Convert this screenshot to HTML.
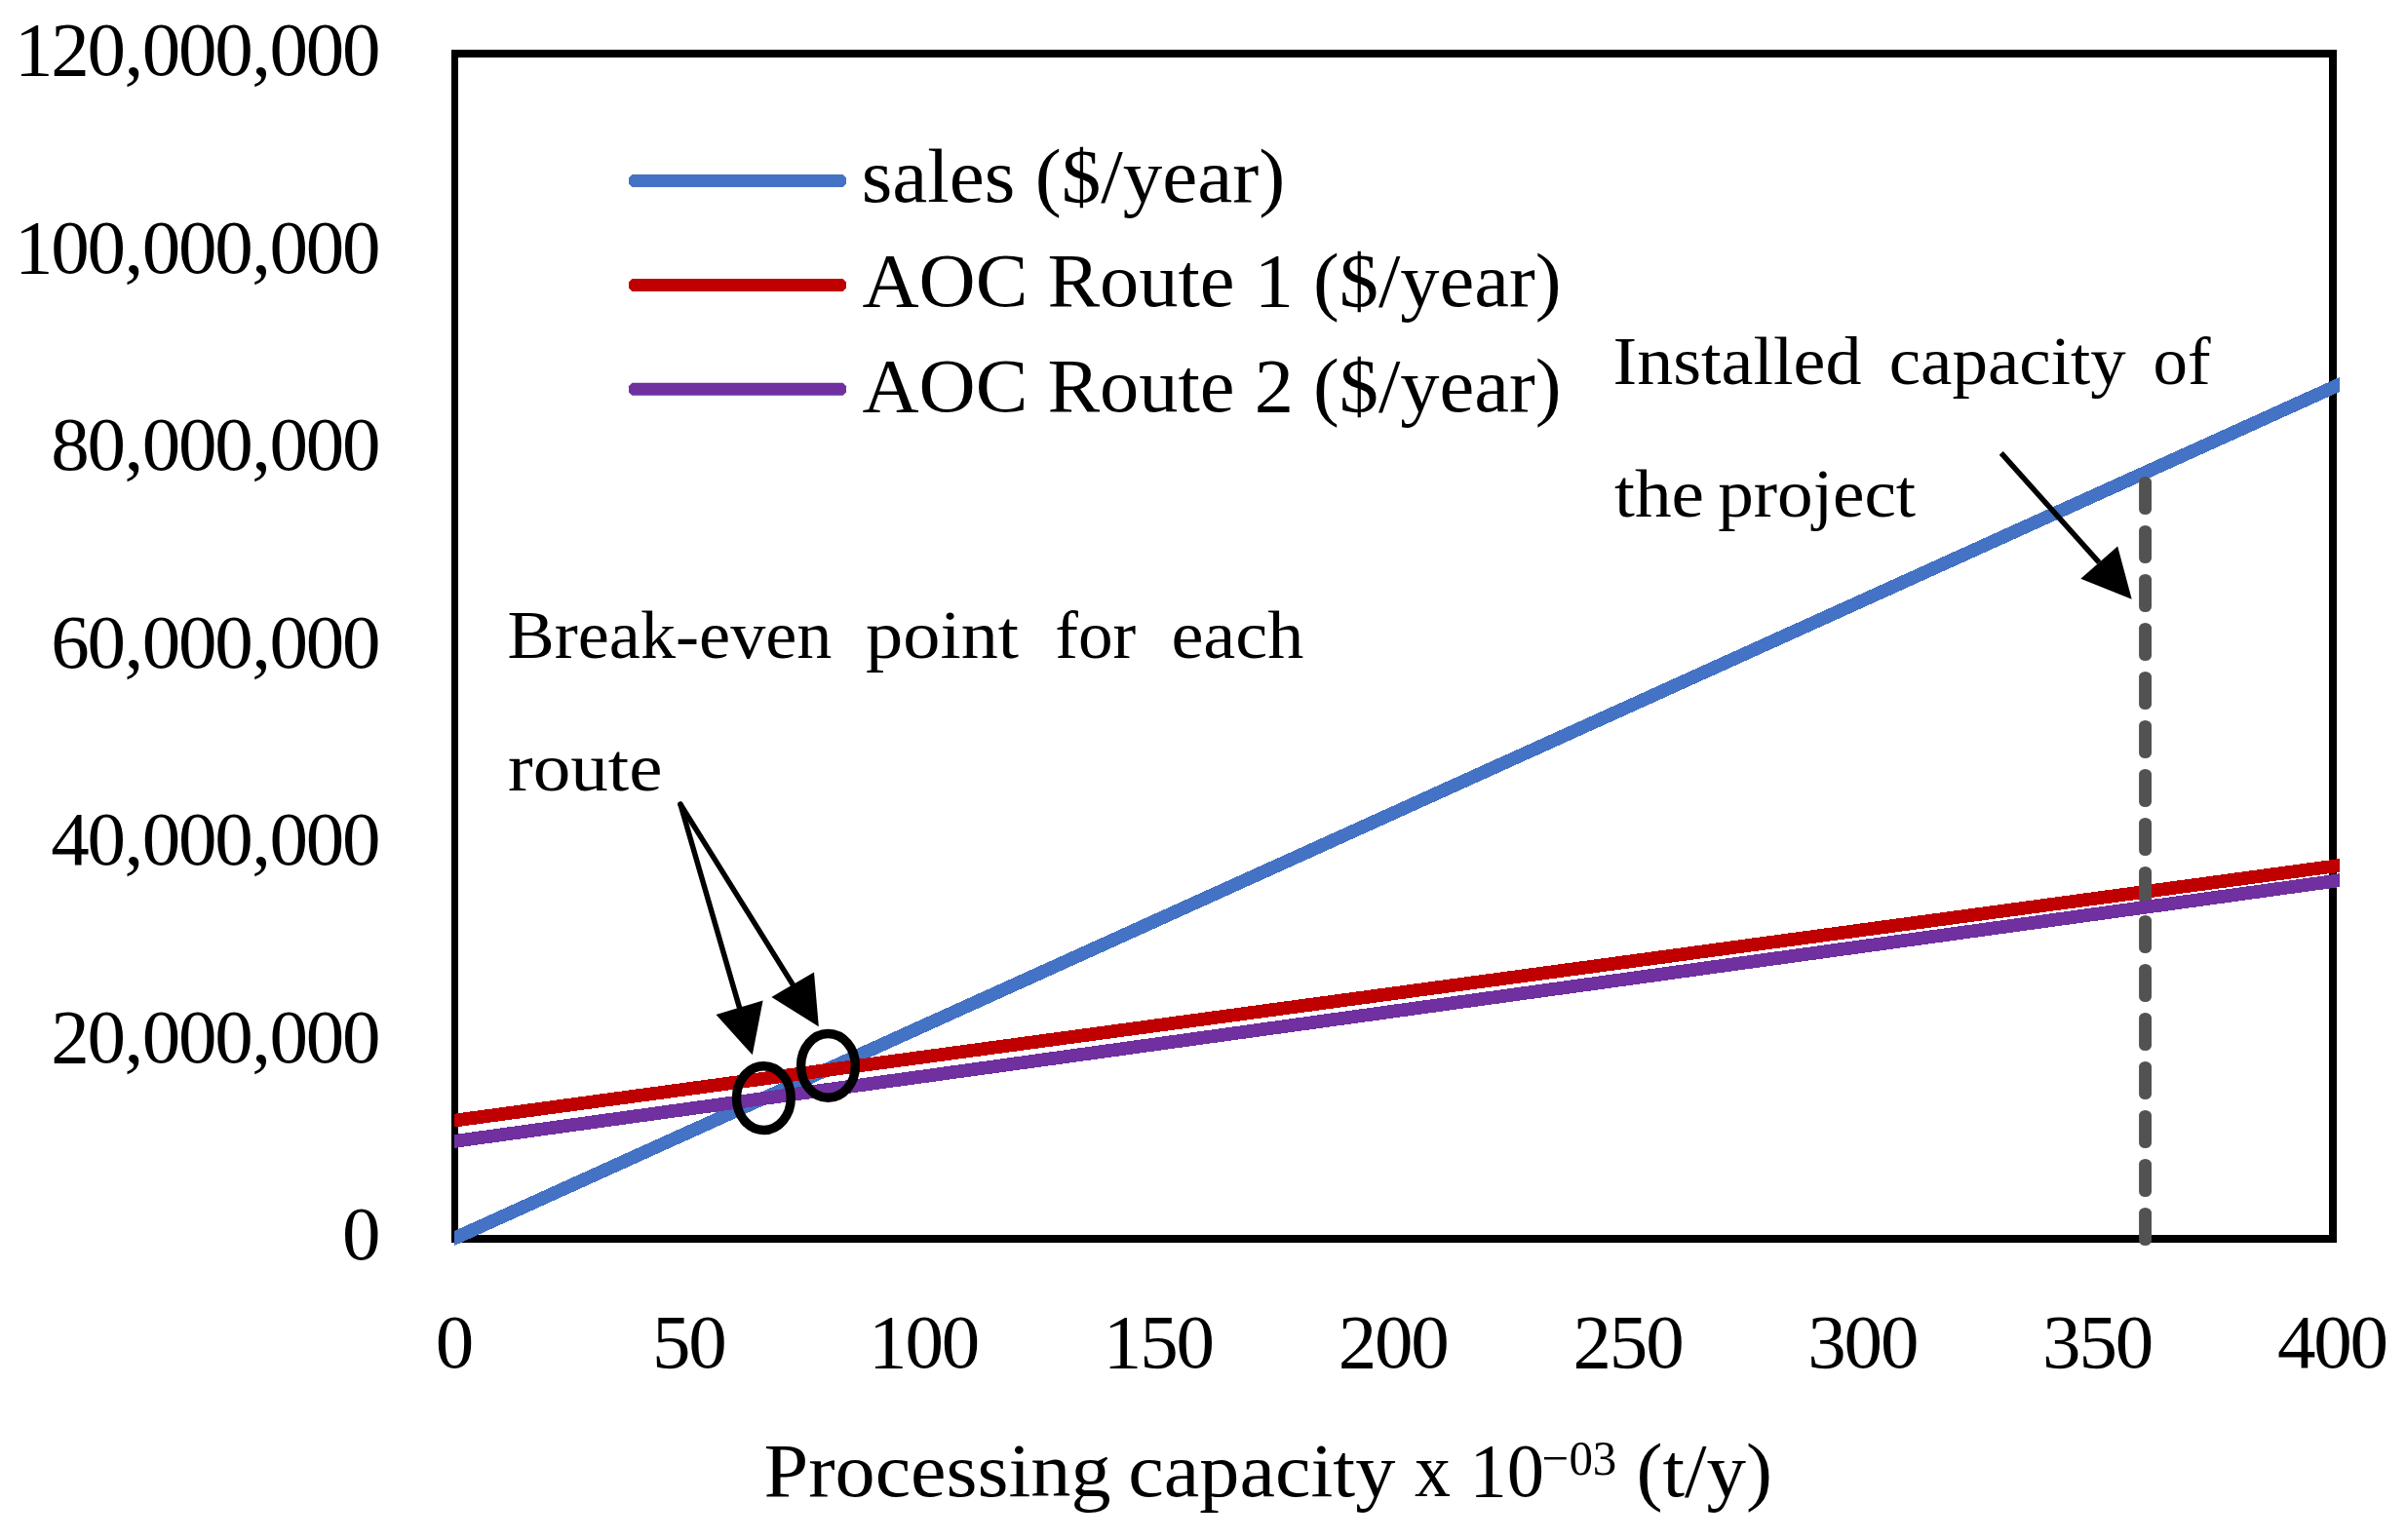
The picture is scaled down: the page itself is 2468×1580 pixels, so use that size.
<!DOCTYPE html>
<html lang="en"><head><meta charset="utf-8"><title>Break-even chart</title>
<style>html,body{margin:0;padding:0;background:#fff;}body{width:2468px;height:1580px;overflow:hidden;}svg{display:block;}text{font-family:"Liberation Serif", serif;fill:#000;}</style>
</head><body>
<svg width="2468" height="1580" viewBox="0 0 2468 1580">
<rect x="0" y="0" width="2468" height="1580" fill="#ffffff"/>
<path d="M463 51H2397V1275H463Z M470 59V1267H2389V59Z" fill="#000" fill-rule="evenodd"/>
<defs><clipPath id="plotclip"><rect x="466.0" y="0" width="1934.0" height="1400"/></clipPath></defs>
<line x1="446.0" y1="1279.56" x2="2420.0" y2="385.34" stroke="#4472C4" stroke-width="13.7" shape-rendering="crispEdges" clip-path="url(#plotclip)" />
<line x1="446.0" y1="1152.35" x2="2420.0" y2="885.16" stroke="#C00000" stroke-width="13.7" shape-rendering="crispEdges" clip-path="url(#plotclip)" />
<g fill="#525252">
<rect x="2194.1" y="488.9" width="12.9" height="39.1" rx="6.45" ry="5.2"/>
<rect x="2194.1" y="538.9" width="12.9" height="39.1" rx="6.45" ry="5.2"/>
<rect x="2194.1" y="588.9" width="12.9" height="39.1" rx="6.45" ry="5.2"/>
<rect x="2194.1" y="638.9" width="12.9" height="39.1" rx="6.45" ry="5.2"/>
<rect x="2194.1" y="688.9" width="12.9" height="39.1" rx="6.45" ry="5.2"/>
<rect x="2194.1" y="738.9" width="12.9" height="39.1" rx="6.45" ry="5.2"/>
<rect x="2194.1" y="788.9" width="12.9" height="39.1" rx="6.45" ry="5.2"/>
<rect x="2194.1" y="838.9" width="12.9" height="39.1" rx="6.45" ry="5.2"/>
<rect x="2194.1" y="888.9" width="12.9" height="39.1" rx="6.45" ry="5.2"/>
<rect x="2194.1" y="938.9" width="12.9" height="39.1" rx="6.45" ry="5.2"/>
<rect x="2194.1" y="988.9" width="12.9" height="39.1" rx="6.45" ry="5.2"/>
<rect x="2194.1" y="1038.9" width="12.9" height="39.1" rx="6.45" ry="5.2"/>
<rect x="2194.1" y="1088.9" width="12.9" height="39.1" rx="6.45" ry="5.2"/>
<rect x="2194.1" y="1138.9" width="12.9" height="39.1" rx="6.45" ry="5.2"/>
<rect x="2194.1" y="1188.9" width="12.9" height="39.1" rx="6.45" ry="5.2"/>
<rect x="2194.1" y="1238.9" width="12.9" height="39.1" rx="6.45" ry="5.2"/>
</g>
<line x1="446.0" y1="1173.72" x2="2420.0" y2="900.42" stroke="#7030A0" stroke-width="13.7" shape-rendering="crispEdges" clip-path="url(#plotclip)" />
<polygon fill="#4472C4" points="648.4,179.0 864.6,179.0 868.0,182.4 868.0,188.6 864.6,192.0 648.4,192.0 645.0,188.6 645.0,182.4"/>
<polygon fill="#C00000" points="648.4,286.0 864.6,286.0 868.0,289.4 868.0,295.6 864.6,299.0 648.4,299.0 645.0,295.6 645.0,289.4"/>
<polygon fill="#7030A0" points="648.4,392.8 864.6,392.8 868.0,396.2 868.0,402.4 864.6,405.8 648.4,405.8 645.0,402.4 645.0,396.2"/>
<text x="883.8" y="207.2" font-size="79.0" text-anchor="start" textLength="434.5" lengthAdjust="spacingAndGlyphs" >sales ($/year)</text>
<text x="884.5" y="314.0" font-size="79.0" text-anchor="start" textLength="717.0" lengthAdjust="spacingAndGlyphs" >AOC Route 1 ($/year)</text>
<text x="884.5" y="421.7" font-size="79.0" text-anchor="start" textLength="717.0" lengthAdjust="spacingAndGlyphs" >AOC Route 2 ($/year)</text>
<text x="351.07" y="1292.3" font-size="79.0">0</text>
<text x="52.27 89.62 127.51 145.65 183.00 220.35 258.24 276.38 313.73 351.08" y="1089.8" font-size="79.0">20,000,000</text>
<text x="52.27 89.62 127.51 145.65 183.00 220.35 258.24 276.38 313.73 351.08" y="887.3" font-size="79.0">40,000,000</text>
<text x="52.27 89.62 127.51 145.65 183.00 220.35 258.24 276.38 313.73 351.08" y="684.8" font-size="79.0">60,000,000</text>
<text x="52.27 89.62 127.51 145.65 183.00 220.35 258.24 276.38 313.73 351.08" y="482.3" font-size="79.0">80,000,000</text>
<text x="14.93 52.28 89.62 127.51 145.65 183.00 220.35 258.24 276.38 313.73 351.08" y="279.8" font-size="79.0">100,000,000</text>
<text x="14.93 52.28 89.62 127.51 145.65 183.00 220.35 258.24 276.38 313.73 351.08" y="77.3" font-size="79.0">120,000,000</text>
<text x="446.75" y="1403.4" font-size="79.0">0</text>
<text x="668.89 706.24" y="1403.4" font-size="79.0">50</text>
<text x="891.02 928.38 965.73" y="1403.4" font-size="79.0">100</text>
<text x="1131.84 1169.19 1206.54" y="1403.4" font-size="79.0">150</text>
<text x="1372.65 1410.00 1447.35" y="1403.4" font-size="79.0">200</text>
<text x="1613.46 1650.81 1688.16" y="1403.4" font-size="79.0">250</text>
<text x="1854.27 1891.62 1928.97" y="1403.4" font-size="79.0">300</text>
<text x="2095.09 2132.44 2169.79" y="1403.4" font-size="79.0">350</text>
<text x="2335.90 2373.25 2410.60" y="1403.4" font-size="79.0">400</text>
<text font-size="78" y="1535.3"><tspan x="783.5" textLength="356.0" lengthAdjust="spacingAndGlyphs">Processing</tspan> <tspan x="1157.3" textLength="274.0" lengthAdjust="spacingAndGlyphs">capacity</tspan> <tspan x="1451.0" textLength="37.0" lengthAdjust="spacingAndGlyphs">x</tspan> <tspan x="1507.5" textLength="76.5" lengthAdjust="spacingAndGlyphs" font-size="79.0">10</tspan><tspan x="1581.8" textLength="76.5" lengthAdjust="spacingAndGlyphs" font-size="51.0" y="1512.9">−03</tspan> <tspan x="1678.6" textLength="139.5" lengthAdjust="spacingAndGlyphs" y="1535.3">(t/y)</tspan></text>
<text font-size="69"><tspan x="1654.5" y="394.1" textLength="255" lengthAdjust="spacingAndGlyphs">Installed</tspan> <tspan x="1937.7" y="394.1" textLength="243" lengthAdjust="spacingAndGlyphs">capacity</tspan> <tspan x="2208.5" y="394.1" textLength="59" lengthAdjust="spacingAndGlyphs">of</tspan></text>
<text font-size="69"><tspan x="1656" y="530.1" textLength="92" lengthAdjust="spacingAndGlyphs">the</tspan> <tspan x="1762.2" y="530.1" textLength="203" lengthAdjust="spacingAndGlyphs">project</tspan></text>
<text font-size="69"><tspan x="520.5" y="675.4" textLength="333" lengthAdjust="spacingAndGlyphs">Break-even</tspan> <tspan x="888.1" y="675.4" textLength="157" lengthAdjust="spacingAndGlyphs">point</tspan> <tspan x="1082.2" y="675.4" textLength="83" lengthAdjust="spacingAndGlyphs">for</tspan> <tspan x="1201.4" y="675.4" textLength="136" lengthAdjust="spacingAndGlyphs">each</tspan></text>
<text font-size="69"><tspan x="521" y="811.4" textLength="158.5" lengthAdjust="spacingAndGlyphs">route</tspan></text>
<path d="M2052.8 464.8L2153.2 577.2" stroke="#000" stroke-width="5.5" stroke-linecap="butt" fill="none"/>
<polygon points="2186.7,614.7 2172.2,560.6 2134.3,593.8" fill="#000"/>
<path d="M698.0 825.2L758.5 1033.8" stroke="#000" stroke-width="5.5" stroke-linecap="round" fill="none"/>
<polygon points="771.8,1082.3 734.5,1041.0 782.6,1026.5" fill="#000"/>
<path d="M698.0 825.2L813.2 1010.1" stroke="#000" stroke-width="5.5" stroke-linecap="round" fill="none"/>
<polygon points="839.8,1053.3 791.4,1022.9 835.0,997.4" fill="#000"/>
<ellipse cx="783.4" cy="1126.6" rx="27.9" ry="32.9" fill="none" stroke="#000" stroke-width="9.4"/>
<ellipse cx="849.5" cy="1093.4" rx="27.9" ry="32.9" fill="none" stroke="#000" stroke-width="9.4"/>
</svg>
</body></html>
